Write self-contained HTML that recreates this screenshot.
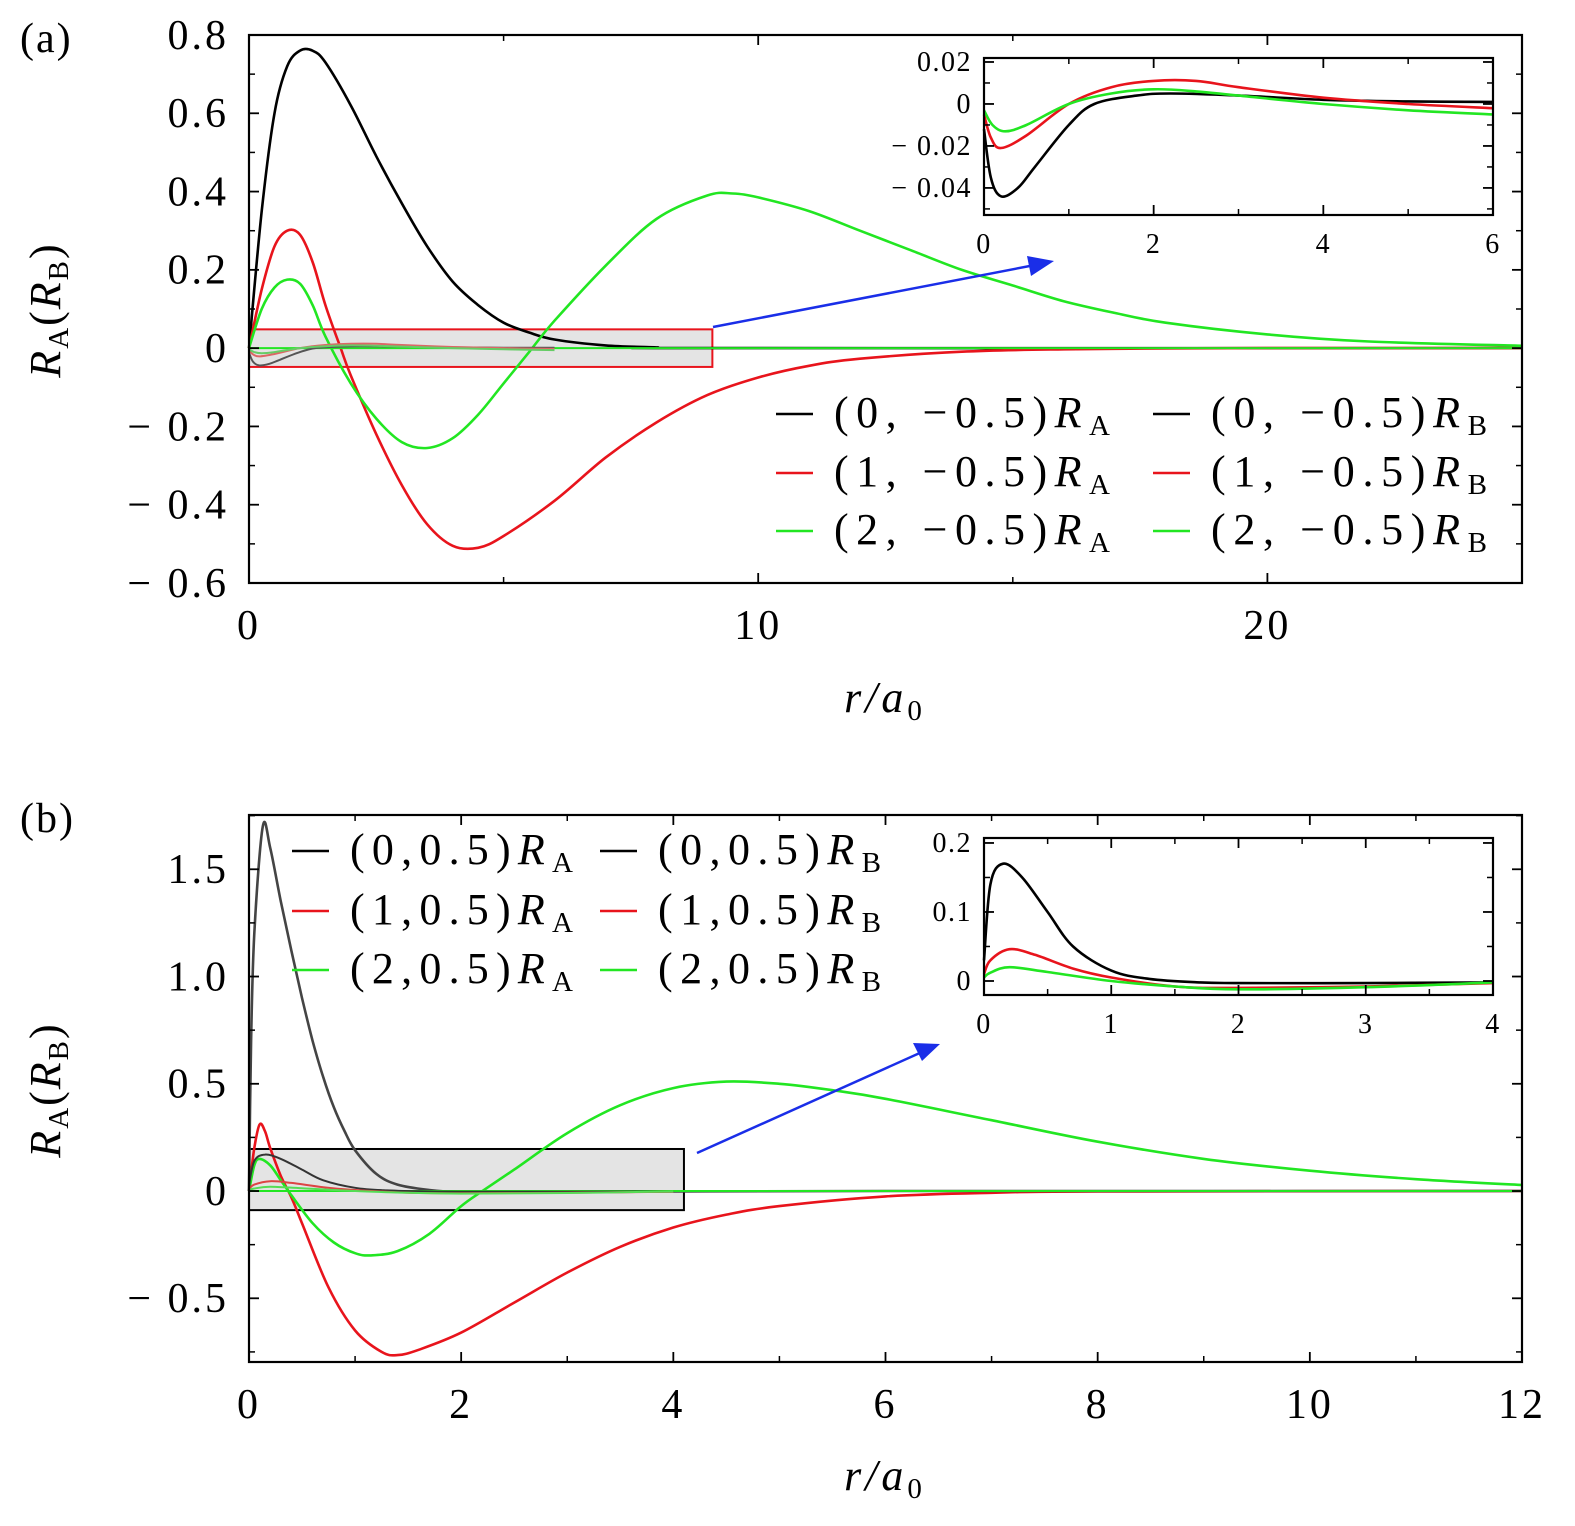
<!DOCTYPE html>
<html><head><meta charset="utf-8"><style>
html,body{margin:0;padding:0;background:#fff}
svg{display:block;font-family:"Liberation Serif",serif}
</style></head><body>
<svg id="c" width="1575" height="1526" viewBox="0 0 1575 1526"></svg>
<script>
// ---------- data (panel a) ----------
const aBlackR=[0,0.25,0.5,0.75,1,1.25,1.5,2,2.5,3,3.5,4,4.5,5,5.5,6,7,8,9,25];
const aBlackV=[0,0.35,0.6,0.72,0.76,0.76,0.73,0.62,0.49,0.37,0.26,0.17,0.11,0.065,0.04,0.022,0.007,0.002,0,0];
const aRedR=[0,0.25,0.5,0.75,1,1.25,1.5,1.8,2,2.5,3,3.5,4,4.5,5,6,7,8,9,10,11,12,14,16,18,20,25];
const aRedV=[0,0.15,0.26,0.3,0.29,0.22,0.11,0,-0.07,-0.22,-0.35,-0.45,-0.505,-0.51,-0.48,-0.39,-0.28,-0.19,-0.12,-0.075,-0.045,-0.027,-0.009,-0.003,-0.001,0,0];
const aGreenR=[0,0.25,0.5,0.75,1,1.25,1.5,2,2.5,3,3.5,4,4.5,5,5.5,6,7,8,9,9.5,10,11,12,13,14,15,16,17,18,20,22,25];
const aGreenV=[0,0.1,0.155,0.175,0.165,0.11,0.03,-0.09,-0.18,-0.24,-0.255,-0.23,-0.17,-0.09,-0.01,0.07,0.21,0.33,0.39,0.395,0.385,0.35,0.3,0.25,0.2,0.16,0.12,0.09,0.065,0.035,0.017,0.006];
const iaBlackR=[0,0.08,0.2,0.4,0.6,1,1.3,1.8,2.2,3,4,5,6];
const iaBlackV=[-0.012,-0.035,-0.044,-0.04,-0.03,-0.01,0,0.004,0.005,0.004,0.002,0.0012,0.001];
const iaRedR=[0,0.08,0.2,0.5,1,1.5,2,2.5,3,4,5,6];
const iaRedV=[-0.005,-0.016,-0.021,-0.015,0,0.008,0.011,0.011,0.008,0.003,0,-0.002];
const iaGreenR=[0,0.1,0.25,0.5,1,1.5,2,2.5,3,4,5,6];
const iaGreenV=[-0.003,-0.01,-0.013,-0.01,0,0.005,0.007,0.006,0.004,0,-0.003,-0.005];
// ---------- data (panel b) ----------
const bBlackR=[0,0.02,0.05,0.13,0.2,0.3,0.4,0.5,0.6,0.7,0.8,0.9,1.0,1.2,1.4,1.7,2,2.5,3,4,6,12];
const bBlackV=[0,0.7,1.2,1.7,1.6,1.35,1.12,0.9,0.7,0.53,0.39,0.28,0.19,0.08,0.03,0.005,-0.005,-0.007,-0.005,-0.002,0,0];
const bRedR=[0,0.05,0.1,0.15,0.2,0.3,0.4,0.5,0.75,1,1.25,1.4,1.6,2,2.5,3,3.5,4,4.5,5,6,7,8,12];
const bRedV=[0,0.2,0.31,0.28,0.2,0.07,-0.03,-0.15,-0.45,-0.65,-0.75,-0.765,-0.74,-0.66,-0.52,-0.38,-0.26,-0.17,-0.11,-0.07,-0.025,-0.008,-0.002,0];
const bGreenR=[0,0.05,0.1,0.2,0.3,0.4,0.6,0.8,1.0,1.15,1.4,1.7,2,2.2,2.5,3,3.5,4,4.5,5,5.5,6,7,8,9,10,11,12];
const bGreenV=[0,0.12,0.15,0.12,0.05,-0.02,-0.15,-0.24,-0.29,-0.3,-0.28,-0.2,-0.07,0,0.1,0.27,0.4,0.48,0.51,0.5,0.47,0.43,0.33,0.23,0.15,0.095,0.055,0.028];
const ibBlackR=[0,0.05,0.15,0.3,0.5,0.7,1,1.3,1.7,2,3,4];
const ibBlackV=[0.03,0.14,0.17,0.15,0.1,0.05,0.015,0.003,-0.002,-0.003,-0.003,-0.002];
const ibRedR=[0,0.05,0.2,0.4,0.7,1,1.5,2,3,4];
const ibRedV=[0.01,0.03,0.046,0.038,0.018,0.005,-0.008,-0.01,-0.008,-0.003];
const ibGreenR=[0,0.05,0.2,0.5,1,1.5,2,3,4];
const ibGreenV=[0.005,0.012,0.02,0.013,0,-0.008,-0.012,-0.009,-0.002];
// tick arrays
const aXTicks=[0,10,20];
const aYTicks=[0.8,0.6,0.4,0.2,0,-0.2,-0.4,-0.6];
const aYLabels=["0.8","0.6","0.4","0.2","0","\u2212 0.2","\u2212 0.4","\u2212 0.6"];
const iaXTicks=[0,2,4,6];
const iaYTicks=[0.02,0,-0.02,-0.04];
const iaYLabels=["0.02","0","\u2212 0.02","\u2212 0.04"];
const bXTicks=[0,2,4,6,8,10,12];
const bYTicks=[1.5,1.0,0.5,0,-0.5];
const bYLabels=["1.5","1.0","0.5","0","\u2212 0.5"];
const ibXTicks=[0,1,2,3,4];
const ibYTicks=[0.2,0.1,0];
const ibYLabels=["0.2","0.1","0"];

const NS="http://www.w3.org/2000/svg";
const svg=document.getElementById('c');
function el(tag,attrs,parent,text){const e=document.createElementNS(NS,tag);for(const k in attrs)e.setAttribute(k,attrs[k]);if(text!==undefined)e.textContent=text;(parent||svg).appendChild(e);return e;}
function axis(x0,x1,y0,y1,xmin,xmax,ymin,ymax){return{x:v=>x0+(v-xmin)/(xmax-xmin)*(x1-x0),y:v=>y1-(v-ymin)/(ymax-ymin)*(y1-y0),x0,x1,y0,y1};}
function pathD(ax,R,V){const p=R.map((r,i)=>[ax.x(r),ax.y(V[i])]);let d='M'+p[0][0].toFixed(1)+','+p[0][1].toFixed(1);
 for(let i=0;i<p.length-1;i++){const a=p[Math.max(0,i-1)],b=p[i],c=p[i+1],e=p[Math.min(p.length-1,i+2)];
 const c1=[b[0]+(c[0]-a[0])/6,b[1]+(c[1]-a[1])/6],c2=[c[0]-(e[0]-b[0])/6,c[1]-(e[1]-b[1])/6];
 d+=' C'+c1.map(v=>v.toFixed(1))+' '+c2.map(v=>v.toFixed(1))+' '+c[0].toFixed(1)+','+c[1].toFixed(1);}return d;}
function curve(ax,R,V,color,name,g,w){const p=el('path',{d:pathD(ax,R,V),fill:'none',stroke:color,'stroke-width':w||2.6,'stroke-linejoin':'round'},g);
 return p;}
const BK='#000',RD='#e8141c',GR='#22e622';

function frame(ax,g,xt,xl,yt,yl,minorX,minorY,fs,xlOff,ylOff,ls){
 el('rect',{x:ax.x0,y:ax.y0,width:ax.x1-ax.x0,height:ax.y1-ax.y0,fill:'none',stroke:'#000','stroke-width':2.2},g);
 xt.forEach((t,i)=>{const x=ax.x(t);el('line',{x1:x,x2:x,y1:ax.y1,y2:ax.y1-10,stroke:'#000','stroke-width':1.8},g);
  el('line',{x1:x,x2:x,y1:ax.y0,y2:ax.y0+10,stroke:'#000','stroke-width':1.8},g);
  const t2=el('text',{x:x,y:ax.y1+xlOff,'font-size':fs,'text-anchor':'middle','letter-spacing':ls},g,xl[i]);
  });
 minorX.forEach(t=>{const x=ax.x(t);el('line',{x1:x,x2:x,y1:ax.y1,y2:ax.y1-6,stroke:'#000','stroke-width':1.5},g);el('line',{x1:x,x2:x,y1:ax.y0,y2:ax.y0+6,stroke:'#000','stroke-width':1.5},g);});
 yt.forEach((t,i)=>{const y=ax.y(t);el('line',{x1:ax.x0,x2:ax.x0+10,y1:y,y2:y,stroke:'#000','stroke-width':1.8},g);
  el('line',{x1:ax.x1,x2:ax.x1-10,y1:y,y2:y,stroke:'#000','stroke-width':1.8},g);
  const t2=el('text',{x:ax.x0-ylOff,y:y+fs*0.33,'font-size':fs,'text-anchor':'end','letter-spacing':ls},g,yl[i]);
  });
 minorY.forEach(t=>{const y=ax.y(t);el('line',{x1:ax.x0,x2:ax.x0+6,y1:y,y2:y,stroke:'#000','stroke-width':1.5},g);el('line',{x1:ax.x1,x2:ax.x1-6,y1:y,y2:y,stroke:'#000','stroke-width':1.5},g);});
}
function legLabel(g,x,y,pre,sub,color,len){const gg=el('g',{},g);
 el('line',{x1:x,x2:x+37,y1:y-13,y2:y-13,stroke:color,'stroke-width':2.6},gg);
 const t=el('text',{x:x+58,y:y,'font-size':44,textLength:len,lengthAdjust:'spacing'},gg);el('tspan',{},t,pre);el('tspan',{'font-style':'italic'},t,'R');el('tspan',{'font-size':29,dy:8},t,sub);}
function ytitle(g,cy,name){const yl=el('text',{transform:'translate(60,'+cy+') rotate(-90)','font-size':44,'text-anchor':'middle','letter-spacing':2},g);
 
 el('tspan',{'font-style':'italic'},yl,'R');el('tspan',{'font-size':29,dy:8},yl,'A');el('tspan',{dy:-8},yl,'(');el('tspan',{'font-style':'italic'},yl,'R');el('tspan',{'font-size':29,dy:8},yl,'B');el('tspan',{dy:-8},yl,')');}
function xtitle(g,y,name){const xl=el('text',{x:885,y:y,'font-size':44,'text-anchor':'middle','letter-spacing':4},g);
 el('tspan',{'font-style':'italic'},xl,'r/a');el('tspan',{'font-size':29,dy:8},xl,'0');}

// ===== Panel (a) =====
const ga=el('g',{});
const A=axis(249,1522,35,583,0,25,-0.6,0.8);
const za=el('rect',{x:249,y:A.y(0.048),width:A.x(9.1)-249,height:A.y(-0.048)-A.y(0.048),fill:'#e4e4e4',stroke:RD,'stroke-width':2},ga);

curve(A,aBlackR,aBlackV,BK,'series-black-RA-a',ga);
curve(A,aRedR,aRedV,RD,'series-red-RA-a',ga);
curve(A,aGreenR,aGreenV,GR,'series-green-RA-a',ga);
el('line',{x1:249,x2:1522,y1:A.y(0),y2:A.y(0),stroke:GR,'stroke-width':2},ga);
curve(A,iaBlackR,iaBlackV,'#555','series-black-RB-a',ga,2);
curve(A,iaRedR,iaRedV,'#d66','series-red-RB-a',ga,2);
curve(A,iaGreenR,iaGreenV,'#6c6','series-green-RB-a',ga,2);
frame(A,ga,aXTicks,aXTicks.map(String),aYTicks,aYLabels,[5,15,25],[0.7,0.5,0.3,0.1,-0.1,-0.3,-0.5],42,56,20,3);
legLabel(ga,776,427,'(0, \u22120.5)','A',BK,276);legLabel(ga,776,486,'(1, \u22120.5)','A',RD,276);legLabel(ga,776,544,'(2, \u22120.5)','A',GR,276);
legLabel(ga,1153,427,'(0, \u22120.5)','B',BK,276);legLabel(ga,1153,486,'(1, \u22120.5)','B',RD,276);legLabel(ga,1153,544,'(2, \u22120.5)','B',GR,276);
const IA=axis(984,1493,58,215,0,6,-0.0529,0.0219);
el('rect',{x:984,y:58,width:509,height:157,fill:'#fff'},ga);
curve(IA,iaBlackR,iaBlackV,BK,'inset-a-black',ga);
curve(IA,iaRedR,iaRedV,RD,'inset-a-red',ga);
curve(IA,iaGreenR,iaGreenV,GR,'inset-a-green',ga);
frame(IA,ga,iaXTicks,iaXTicks.map(String),iaYTicks,iaYLabels,[1,3,5],[0.01,-0.01,-0.03,-0.05],28,38,12,1.5);
el('line',{x1:713,y1:327,x2:1035,y2:265,stroke:'#1a2ee8','stroke-width':2.5},ga);
el('polygon',{points:'1054,261 1027,256 1031,276',fill:'#1a2ee8'},ga);
el('text',{x:20,y:52,'font-size':42,'letter-spacing':2},ga,'(a)');
ytitle(ga,310,'y-axis-title-a');
xtitle(ga,712,'x-axis-title-a');

// ===== Panel (b) =====
const gb=el('g',{});
const B=axis(249,1522,815,1362,0,12,-0.797,1.753);
const zb=el('rect',{x:249,y:B.y(0.196),width:B.x(4.1)-249,height:B.y(-0.089)-B.y(0.196),fill:'#e4e4e4',stroke:'#000','stroke-width':2},gb);

curve(B,bRedR,bRedV,RD,'series-red-RA-b',gb);
curve(B,bGreenR,bGreenV,GR,'series-green-RA-b',gb);
curve(B,bBlackR,bBlackV,'#444','series-black-RA-b',gb);
el('line',{x1:249,x2:1522,y1:B.y(0),y2:B.y(0),stroke:GR,'stroke-width':2},gb);
curve(B,ibBlackR,ibBlackV,'#333','series-black-RB-b',gb,2);
curve(B,ibRedR,ibRedV,'#d44','series-red-RB-b',gb,2);
curve(B,ibGreenR,ibGreenV,'#5d5','series-green-RB-b',gb,2);
frame(B,gb,bXTicks,bXTicks.map(String),bYTicks,bYLabels,[1,3,5,7,9,11],[1.75,1.25,0.75,0.25,-0.25,-0.75],42,56,20,3);
legLabel(gb,292,864,'(0,0.5)','A',BK,223);legLabel(gb,292,924,'(1,0.5)','A',RD,223);legLabel(gb,292,983,'(2,0.5)','A',GR,223);
legLabel(gb,600,864,'(0,0.5)','B',BK,223);legLabel(gb,600,924,'(1,0.5)','B',RD,223);legLabel(gb,600,983,'(2,0.5)','B',GR,223);
const IB=axis(984,1493,838,995,0,4,-0.0203,0.2072);
el('rect',{x:984,y:838,width:509,height:157,fill:'#fff'},gb);
curve(IB,ibBlackR,ibBlackV,BK,'inset-b-black',gb);
curve(IB,ibRedR,ibRedV,RD,'inset-b-red',gb);
curve(IB,ibGreenR,ibGreenV,GR,'inset-b-green',gb);
frame(IB,gb,ibXTicks,ibXTicks.map(String),ibYTicks,ibYLabels,[0.5,1.5,2.5,3.5],[0.15,0.05],28,38,12,1.5);
el('line',{x1:697,y1:1153,x2:922,y2:1052,stroke:'#1a2ee8','stroke-width':2.5},gb);
el('polygon',{points:'940,1044 913,1043 922,1061',fill:'#1a2ee8'},gb);
el('text',{x:20,y:832,'font-size':42,'letter-spacing':2},gb,'(b)');
ytitle(gb,1090,'y-axis-title-b');
xtitle(gb,1490,'x-axis-title-b');
</script>
</body></html>
